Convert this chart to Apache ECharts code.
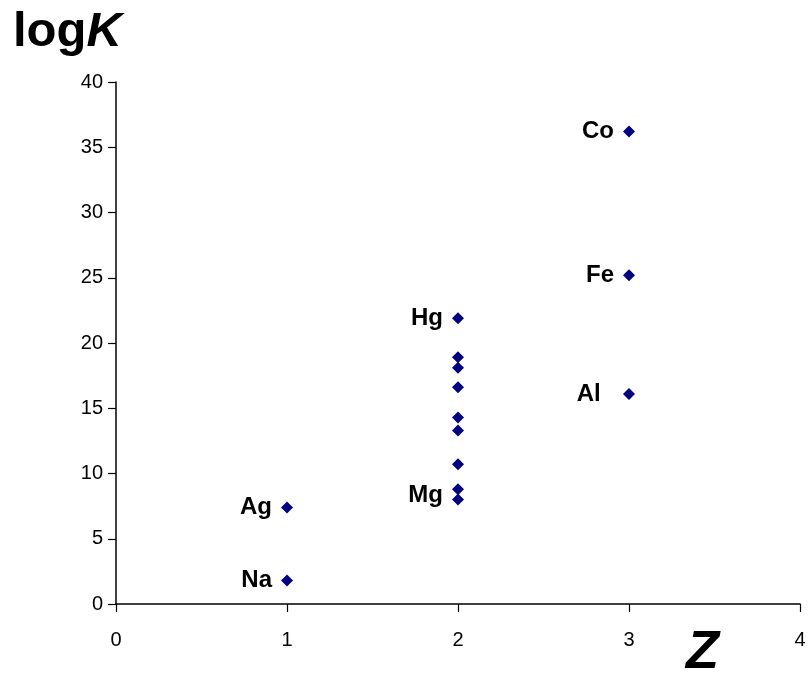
<!DOCTYPE html>
<html>
<head>
<meta charset="utf-8">
<script src="https://cdn.jsdelivr.net/npm/echarts@6/dist/echarts.min.js"></script>
<style>
  html, body { margin: 0; padding: 0; background: #fff; }
  #chart { width: 810px; height: 677px; }
</style>
</head>
<body>
<div id="chart"></div>
<script>
// Stability constants (log K) against ion charge Z
const chargeZ = [1, 1, 2, 2, 2, 2, 2, 2, 2, 2, 2, 3, 3, 3];
const logKValues = [1.8, 7.4, 21.9, 18.9, 18.1, 16.6, 14.3, 13.3, 10.7, 8.8, 8.0, 36.2, 25.2, 16.1];
const ionLabels = ['Na', 'Ag', 'Hg', '', '', '', '', '', '', '', 'Mg', 'Co', 'Fe', 'Al  '];

const xTicks = { min: 0, max: 4, interval: 1 };
const yTicks = { min: 0, max: 40, interval: 5 };

const font = '"Liberation Sans", Arial, sans-serif';
const points = chargeZ.map((z, i) => ({
  value: [z, logKValues[i]],
  name: ionLabels[i],
  label: ionLabels[i] === 'Mg' ? { offset: [0, -4] } : undefined
}));

const chart = echarts.init(document.getElementById('chart'));
chart.setOption({
  animation: false,
  backgroundColor: '#ffffff',
  grid: { left: 116, right: 10, top: 82, bottom: 73, containLabel: false },
  xAxis: {
    type: 'value',
    min: xTicks.min, max: xTicks.max, interval: xTicks.interval,
    axisLine: { onZero: false, lineStyle: { color: '#000', width: 1.5 } },
    axisTick: { show: true, length: 8, lineStyle: { color: '#000', width: 1.2 } },
    axisLabel: { color: '#000', fontFamily: font, fontSize: 20, margin: 26 },
    splitLine: { show: false }
  },
  yAxis: {
    type: 'value',
    min: yTicks.min, max: yTicks.max, interval: yTicks.interval,
    axisLine: { show: true, onZero: false, lineStyle: { color: '#000', width: 1.5 } },
    axisTick: { show: true, length: 8, lineStyle: { color: '#000', width: 1.2 } },
    axisLabel: { color: '#000', fontFamily: font, fontSize: 20, margin: 13 },
    splitLine: { show: false }
  },
  series: [{
    type: 'scatter',
    symbol: 'diamond',
    symbolSize: 12,
    itemStyle: { color: '#000080', opacity: 1 },
    emphasis: { disabled: true },
    data: points,
    label: {
      show: true,
      position: 'left',
      distance: 9,
      formatter: p => p.name,
      color: '#000000',
      opacity: 1,
      textBorderWidth: 0,
      fontFamily: font,
      fontWeight: 'bold',
      fontSize: 24
    }
  }],
  graphic: [
    {
      type: 'text', left: 13, top: 8,
      style: {
        text: '{a|log}{b|K}',
        rich: {
          a: { fontFamily: font, fontWeight: 'bold', fontSize: 49, fill: '#000' },
          b: { fontFamily: font, fontWeight: 'bold', fontStyle: 'italic', fontSize: 49, fill: '#000' }
        }
      }
    },
    {
      type: 'text', left: 686, top: 626,
      style: {
        text: 'Z',
        fontFamily: font, fontWeight: 'bold', fontStyle: 'italic', fontSize: 54, fill: '#000'
      }
    }
  ]
});
</script>
</body>
</html>
